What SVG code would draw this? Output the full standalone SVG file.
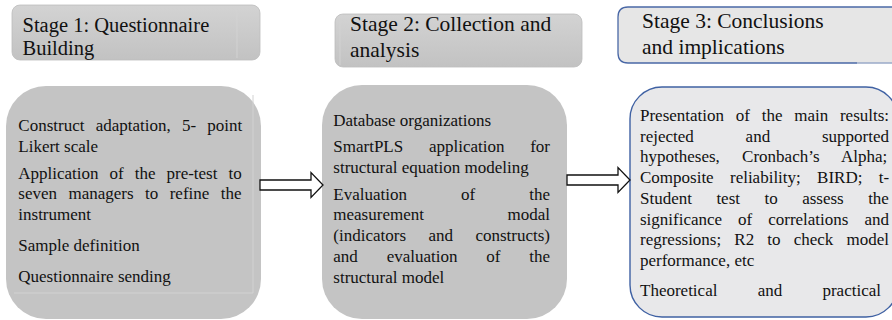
<svg xmlns="http://www.w3.org/2000/svg" width="892" height="320" viewBox="0 0 892 320">
  <defs>
    <linearGradient id="hdrFill" x1="0" y1="0" x2="0" y2="1">
      <stop offset="0" stop-color="#d3d3d3"/>
      <stop offset="1" stop-color="#c2c2c2"/>
    </linearGradient>
  </defs>
  <style>
    .hdr { fill: url(#hdrFill); stroke: #bdbdbd; stroke-width: 0.8; }
    .body { fill: #c4c4c4; }
    .body3 { fill: #e8e8ea; stroke: #3f61a3; stroke-width: 1.4; }
    .faint { stroke: #d2d2d2; stroke-width: 1; fill: none; }
    .htxt { font-family: "Liberation Serif", "Times New Roman", serif; font-size: 20.5px; fill: #111; }
    .htxt-l { font-size: 21.5px; }
    .btxt { font-family: "Liberation Serif", "Times New Roman", serif; font-size: 17px; fill: #111; }
    .arrow { fill: #ffffff; stroke: #111; stroke-width: 1.3; stroke-linejoin: miter; }
  </style>

  <!-- Stage headers -->
  <g id="stage1-header">
    <rect class="hdr" x="12" y="5" width="248" height="55" rx="8"/>
    <line class="faint" x1="237" y1="7" x2="237" y2="58"/>
    <text class="htxt" x="22.5" y="31.5">Stage 1: Questionnaire</text>
    <text class="htxt" x="22.5" y="55">Building</text>
  </g>

  <g id="stage2-header">
    <rect class="hdr" x="335" y="14" width="247" height="53" rx="8"/>
    <line class="faint" x1="340" y1="16" x2="340" y2="65"/>
    <text class="htxt htxt-l" x="350" y="31">Stage 2: Collection and</text>
    <text class="htxt htxt-l" x="350" y="57">analysis</text>
  </g>

  <g id="stage3-header">
    <path d="M 900 7 H 628 Q 618 7 618 17 V 53 Q 618 63 628 63 H 900 Z" fill="#e6e6e6"/>
    <path d="M 857 7 H 628 Q 618 7 618 17 V 53 Q 618 63 628 63 H 857" fill="none" stroke="#4a68a6" stroke-width="1.3"/>
    <line x1="857" y1="7" x2="892" y2="7" stroke="#4a68a6" stroke-width="1.3"/>
    <line x1="857" y1="63" x2="892" y2="63" stroke="#9aaac8" stroke-width="1.3"/>
    <text class="htxt htxt-l" x="642" y="27.5">Stage 3: Conclusions</text>
    <text class="htxt htxt-l" x="642" y="53.5">and implications</text>
  </g>

  <!-- Stage bodies (justified lines use word-spacing) -->
  <g id="stage1-body">
    <rect class="body" x="6" y="86" width="255" height="233" rx="40"/>
    <path class="faint" d="M 253 95 V 293 H 14"/>
    <text class="btxt" x="18.3" y="131" word-spacing="7">Construct adaptation, 5- point</text>
    <text class="btxt" x="18.3" y="151.7">Likert scale</text>
    <text class="btxt" x="18.3" y="178.5" word-spacing="6.75">Application of the pre-test to</text>
    <text class="btxt" x="18.3" y="199.2" word-spacing="7.2">seven managers to refine the</text>
    <text class="btxt" x="18.3" y="219.9">instrument</text>
    <text class="btxt" x="18.3" y="251">Sample definition</text>
    <text class="btxt" x="18.3" y="282">Questionnaire sending</text>
  </g>

  <g id="stage2-body">
    <rect class="body" x="322" y="85" width="245" height="234" rx="40"/>
    <text class="btxt" x="333.3" y="126">Database organizations</text>
    <text class="btxt" x="333.3" y="152.4" word-spacing="21.45">SmartPLS application for</text>
    <text class="btxt" x="333.3" y="173.2">structural equation modeling</text>
    <text class="btxt" x="333.3" y="199.6" word-spacing="49.8">Evaluation of the</text>
    <text class="btxt" x="333.3" y="220.4" word-spacing="79.4">measurement modal</text>
    <text class="btxt" x="333.3" y="241.2" word-spacing="18.2">(indicators and constructs)</text>
    <text class="btxt" x="333.3" y="262" word-spacing="24.55">and evaluation of the</text>
    <text class="btxt" x="333.3" y="282.8">structural model</text>
  </g>

  <g id="stage3-body">
    <rect class="body3" x="630" y="87" width="268" height="230" rx="32"/>
    <text class="btxt" x="640" y="121" word-spacing="7.5">Presentation of the main results:</text>
    <text class="btxt" x="640" y="141.7" word-spacing="47.55">rejected and supported</text>
    <text class="btxt" x="640" y="162.4" word-spacing="18.05">hypotheses, Cronbach’s Alpha;</text>
    <text class="btxt" x="640" y="183.1" word-spacing="12.05">Composite reliability; BIRD; t-</text>
    <text class="btxt" x="640" y="203.8" word-spacing="20.2">Student test to assess the</text>
    <text class="btxt" x="640" y="224.5" word-spacing="11.7">significance of correlations and</text>
    <text class="btxt" x="640" y="245.2" word-spacing="8.9">regressions; R2 to check model</text>
    <text class="btxt" x="640" y="265.9">performance, etc</text>
    <text class="btxt" x="640" y="296" word-spacing="36">Theoretical and practical</text>
  </g>

  <!-- Connectors: block arrows between stages -->
  <g id="connectors">
    <polygon class="arrow" points="260,180 311,180 311,172.5 323,185 311,197.5 311,190 260,190"/>
    <polygon class="arrow" points="567,175 618,175 618,167.5 630,180 618,192.5 618,185 567,185"/>
  </g>
</svg>
